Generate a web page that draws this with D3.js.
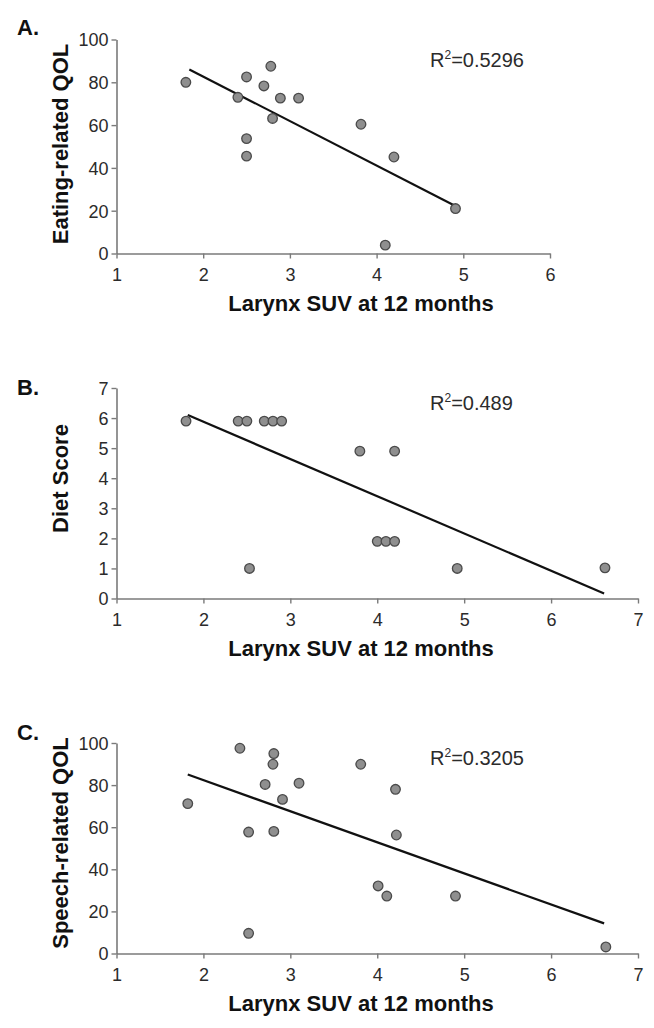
<!DOCTYPE html>
<html>
<head>
<meta charset="utf-8">
<script src="https://cdn.jsdelivr.net/npm/d3@7"></script>
<style>
  html, body { margin: 0; padding: 0; background: #fff; }
  svg { display: block; font-family: "Liberation Sans", Arial, sans-serif; }
</style>
</head>
<body>
<svg id="chart" width="654" height="1028"></svg>
<script>
// ---- Data ----
const panelLetters = ["A.", "B.", "C."];
const xTitle = "Larynx SUV at 12 months";
const yTitles = ["Eating-related QOL", "Diet Score", "Speech-related QOL"];
const r2Labels = ["0.5296", "0.489", "0.3205"];

const xTicksA = [1, 2, 3, 4, 5, 6];
const xTicksBC = [1, 2, 3, 4, 5, 6, 7];
const yTicksA = [0, 20, 40, 60, 80, 100];
const yTicksB = [0, 1, 2, 3, 4, 5, 6, 7];
const yTicksC = [0, 20, 40, 60, 80, 100];

const eatingSUV = [1.8, 2.4, 2.5, 2.5, 2.5, 2.7, 2.78, 2.8, 2.89, 3.1, 3.82, 4.2, 4.1, 4.91];
const eatingQOL = [80, 73, 82.5, 53.7, 45.5, 78.3, 87.5, 63.1, 72.6, 72.6, 60.4, 45.1, 3.9, 21];
const eatingFitX = [1.84, 4.92];
const eatingFitY = [86, 22];

const dietSUV = [1.8, 2.4, 2.5, 2.7, 2.8, 2.9, 3.8, 4.2, 4.0, 4.1, 4.2, 2.53, 4.92, 6.62];
const dietScore = [5.9, 5.9, 5.9, 5.9, 5.9, 5.9, 4.9, 4.9, 1.9, 1.9, 1.9, 1.0, 1.0, 1.02];
const dietFitX = [1.82, 6.61];
const dietFitY = [6.1, 0.17];

const speechSUV = [1.82, 2.42, 2.52, 2.52, 2.71, 2.81, 2.8, 2.81, 2.91, 3.1, 3.81, 4.21, 4.22, 4.01, 4.11, 4.9, 6.63];
const speechQOL = [71.2, 97.5, 57.7, 9.6, 80.3, 95, 89.9, 58, 73.2, 80.9, 89.9, 78, 56.3, 32.1, 27.3, 27.3, 3.1];
const speechFitX = [1.82, 6.61];
const speechFitY = [85, 14.3];

// ---- Layout ----
const panels = [
  { letter: panelLetters[0], yTitle: yTitles[0], r2: r2Labels[0],
    xDomain: [1, 6], xRange: [116.5, 550], xTicks: xTicksA,
    yDomain: [0, 100], yRange: [253.5, 39.5], yTicks: yTicksA,
    xs: eatingSUV, ys: eatingQOL, fitX: eatingFitX, fitY: eatingFitY,
    letterY: 34.5, yTitleY: 144, r2Y: 66.5 },
  { letter: panelLetters[1], yTitle: yTitles[1], r2: r2Labels[1],
    xDomain: [1, 7], xRange: [116.5, 638], xTicks: xTicksBC,
    yDomain: [0, 7], yRange: [598.5, 388], yTicks: yTicksB,
    xs: dietSUV, ys: dietScore, fitX: dietFitX, fitY: dietFitY,
    letterY: 394.5, yTitleY: 478.5, r2Y: 410 },
  { letter: panelLetters[2], yTitle: yTitles[2], r2: r2Labels[2],
    xDomain: [1, 7], xRange: [116.5, 638], xTicks: xTicksBC,
    yDomain: [0, 100], yRange: [953.5, 743], yTicks: yTicksC,
    xs: speechSUV, ys: speechQOL, fitX: speechFitX, fitY: speechFitY,
    letterY: 739.5, yTitleY: 843, r2Y: 765 }
];

const svg = d3.select("#chart");
const axisColor = "#7a7a7a";
const textColor = "#2b2b2b";

panels.forEach(p => {
  const x = d3.scaleLinear().domain(p.xDomain).range(p.xRange);
  const y = d3.scaleLinear().domain(p.yDomain).range(p.yRange);
  const g = svg.append("g");

  // y axis
  const yAxis = g.append("g")
    .attr("transform", `translate(${p.xRange[0]},0)`)
    .call(d3.axisLeft(y).tickValues(p.yTicks).tickSize(5).tickSizeOuter(0).tickPadding(3).tickFormat(d3.format("d")));
  // x axis
  const xAxis = g.append("g")
    .attr("transform", `translate(0,${p.yRange[0]})`)
    .call(d3.axisBottom(x).tickValues(p.xTicks).tickSize(5).tickSizeOuter(0).tickPadding(10).tickFormat(d3.format("d")));

  [yAxis, xAxis].forEach(a => {
    a.select(".domain").attr("stroke", axisColor).attr("stroke-width", 1.6);
    a.selectAll(".tick line").attr("stroke", axisColor).attr("stroke-width", 1.4);
    a.selectAll(".tick text").attr("fill", textColor).attr("font-size", 18)
      .attr("font-family", "'Liberation Sans', Arial, sans-serif");
  });
  yAxis.selectAll(".tick text").attr("dy", "0.35em");

  // regression line
  const fit = p.fitX.map((v, i) => [v, p.fitY[i]]);
  g.append("path")
    .datum(fit)
    .attr("d", d3.line().x(d => x(d[0])).y(d => y(d[1])))
    .attr("fill", "none").attr("stroke", "#111").attr("stroke-width", 2.2);

  // points
  const pts = p.xs.map((v, i) => [v, p.ys[i]]);
  g.selectAll("circle.pt").data(pts).enter().append("circle")
    .attr("class", "pt")
    .attr("cx", d => x(d[0])).attr("cy", d => y(d[1])).attr("r", 4.8)
    .attr("fill", "#8f8f8f").attr("stroke", "#4a4a4a").attr("stroke-width", 1.3);

  // panel letter
  g.append("text").attr("x", 17).attr("y", p.letterY)
    .attr("font-size", 22).attr("font-weight", "bold").attr("fill", "#111")
    .text(p.letter);

  // y title
  g.append("text")
    .attr("transform", `translate(68,${p.yTitleY}) rotate(-90)`)
    .attr("text-anchor", "middle").attr("font-size", 22).attr("font-weight", "bold").attr("fill", "#111")
    .text(p.yTitle);

  // x title
  g.append("text").attr("x", 361).attr("y", p.yRange[0] + 57)
    .attr("text-anchor", "middle").attr("font-size", 22).attr("font-weight", "bold").attr("fill", "#111")
    .text(xTitle);

  // R^2 label
  const t = g.append("text").attr("x", 430).attr("y", p.r2Y)
    .attr("font-size", 20).attr("fill", textColor);
  t.append("tspan").text("R");
  t.append("tspan").attr("font-size", 12).attr("dy", -8).text("2");
  t.append("tspan").attr("dy", 8).text("=" + p.r2);
});
</script>
</body>
</html>
